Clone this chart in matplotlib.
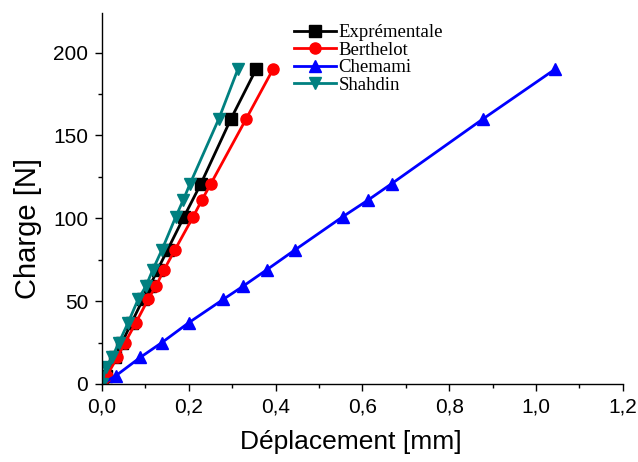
import matplotlib
matplotlib.use("Agg")
import matplotlib.pyplot as plt
from matplotlib.ticker import MultipleLocator, FuncFormatter

# Load-displacement data [mm, N]
exp_x = [0, 0.010, 0.030, 0.046, 0.068, 0.094, 0.110, 0.128, 0.151, 0.189, 0.228, 0.297, 0.355]
exp_y = [0, 5, 16, 25, 37, 51, 59, 69, 81, 101, 121, 160, 190]

berthelot_x = [0, 0.011, 0.035, 0.053, 0.078, 0.106, 0.124, 0.143, 0.168, 0.210, 0.230, 0.251, 0.332, 0.394]
berthelot_y = [0, 5, 16, 25, 37, 51, 59, 69, 81, 101, 111, 121, 160, 190]

chemami_x = [0, 0.032, 0.088, 0.138, 0.200, 0.279, 0.325, 0.380, 0.445, 0.555, 0.613, 0.668, 0.878, 1.044]
chemami_y = [0, 5, 16, 25, 37, 51, 59, 69, 81, 101, 111, 121, 160, 190]

shahdin_x = [0, 0.008, 0.023, 0.039, 0.060, 0.083, 0.101, 0.117, 0.138, 0.170, 0.187, 0.203, 0.269, 0.313]
shahdin_y = [0, 10, 16, 25, 37, 51, 59, 69, 81, 101, 111, 121, 160, 190]

fig = plt.figure(figsize=(6.38, 4.62), dpi=100)
ax = fig.add_axes([0.160, 0.169, 0.816, 0.803])

lw, ms = 2.0, 8
ax.plot(exp_x, exp_y, color="black", marker="s", lw=lw, ms=ms, label="Exprémentale")
ax.plot(berthelot_x, berthelot_y, color="#ff0000", marker="o", lw=lw, ms=ms, label="Berthelot")
ax.plot(chemami_x, chemami_y, color="#0000ff", marker="^", lw=lw, ms=ms, label="Chemami")
ax.plot(shahdin_x, shahdin_y, color="#008080", marker="v", lw=lw, ms=ms, label="Shahdin")

ax.set_xlim(0, 1.2)
ax.set_ylim(0, 224)
ax.xaxis.set_major_locator(MultipleLocator(0.2))
ax.xaxis.set_minor_locator(MultipleLocator(0.1))
ax.yaxis.set_major_locator(MultipleLocator(50))
ax.yaxis.set_minor_locator(MultipleLocator(25))
ax.xaxis.set_major_formatter(FuncFormatter(lambda v, p: f"{v:.1f}".replace(".", ",")))

for s in ("top", "right"):
    ax.spines[s].set_visible(False)
for s in ("left", "bottom"):
    ax.spines[s].set_linewidth(1.0)

ax.tick_params(which="major", direction="out", length=5, width=1.0,
               labelsize=15, pad=5)
ax.tick_params(which="minor", direction="out", length=3, width=1.0)
for lab in ax.get_xticklabels() + ax.get_yticklabels():
    lab.set_family("Liberation Sans")

ax.set_xlabel("Déplacement [mm]", fontsize=19, family="Liberation Sans")
ax.set_ylabel("Charge [N]", fontsize=21, family="Liberation Sans")
ax.xaxis.set_label_coords(0.477, -0.125)
ax.yaxis.set_label_coords(-0.115, 0.42)

ax.legend(loc="upper left", bbox_to_anchor=(0.355, 0.99), frameon=False,
          prop={"family": "Liberation Serif", "size": 13.5},
          handlelength=2.2, handletextpad=0.15, labelspacing=0.02, borderaxespad=0)

fig.savefig("out.png", dpi=100)
